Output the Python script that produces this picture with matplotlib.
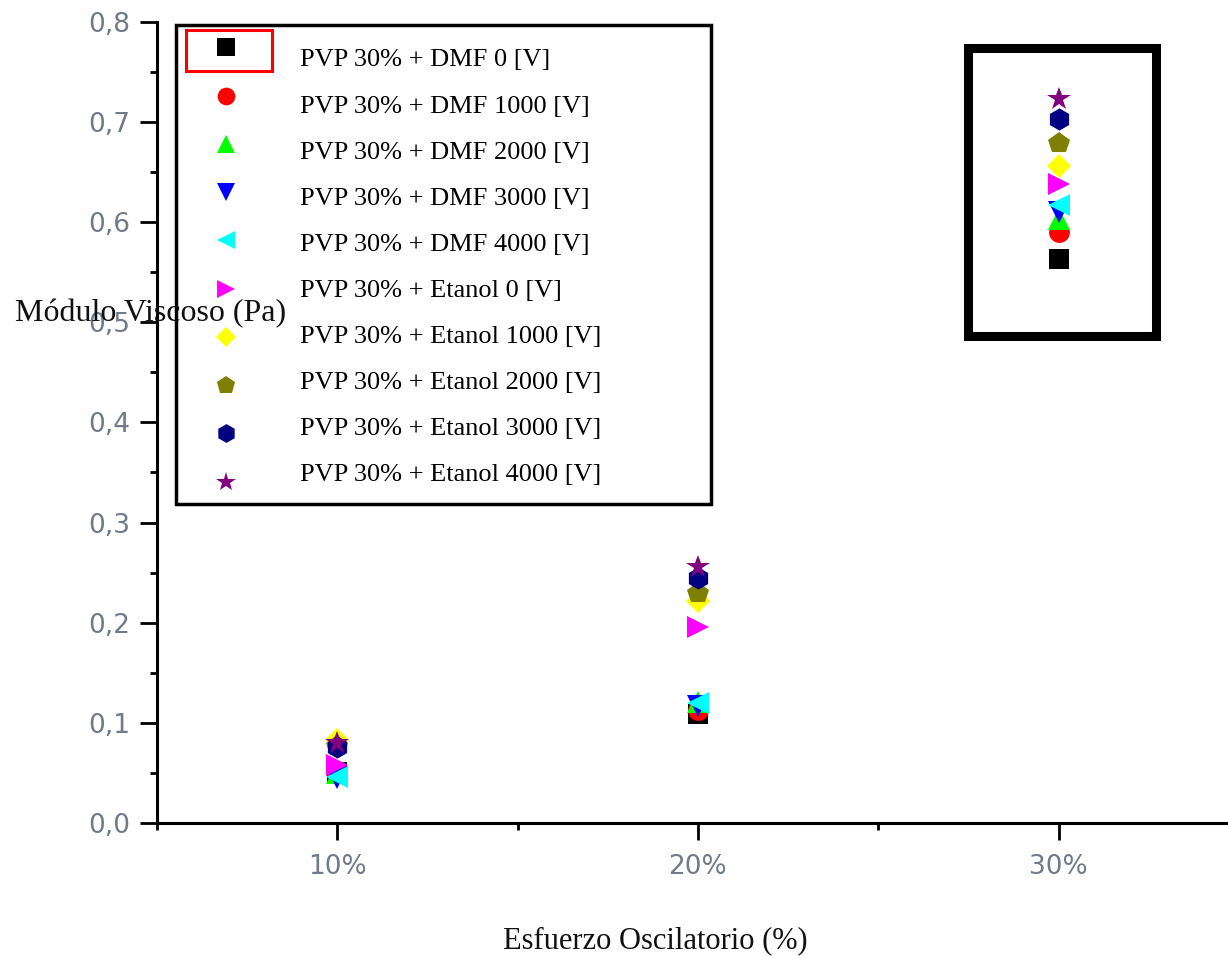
import matplotlib
matplotlib.use("Agg")
import matplotlib.pyplot as plt
from matplotlib.patches import Rectangle
from matplotlib.lines import Line2D
from matplotlib.ticker import MultipleLocator, FixedLocator, FuncFormatter

# ---- data ----
categories = ["10%", "20%", "30%"]
series_labels = [
    "PVP 30% + DMF 0 [V]",
    "PVP 30% + DMF 1000 [V]",
    "PVP 30% + DMF 2000 [V]",
    "PVP 30% + DMF 3000 [V]",
    "PVP 30% + DMF 4000 [V]",
    "PVP 30% + Etanol 0 [V]",
    "PVP 30% + Etanol 1000 [V]",
    "PVP 30% + Etanol 2000 [V]",
    "PVP 30% + Etanol 3000 [V]",
    "PVP 30% + Etanol 4000 [V]",
]
dmf_0 = [0.051, 0.109, 0.563]
dmf_1000 = [0.050, 0.113, 0.590]
dmf_2000 = [0.050, 0.121, 0.603]
dmf_3000 = [0.045, 0.117, 0.610]
dmf_4000 = [0.046, 0.120, 0.617]
etanol_0 = [0.058, 0.196, 0.638]
etanol_1000 = [0.083, 0.222, 0.656]
etanol_2000 = [0.077, 0.230, 0.679]
etanol_3000 = [0.076, 0.245, 0.703]
etanol_4000 = [0.080, 0.256, 0.723]
series_values = [dmf_0, dmf_1000, dmf_2000, dmf_3000, dmf_4000,
                 etanol_0, etanol_1000, etanol_2000, etanol_3000, etanol_4000]
y_ticks = [0.0, 0.1, 0.2, 0.3, 0.4, 0.5, 0.6, 0.7, 0.8]

# ---- styles ----
colors = ["#000000", "#ff0000", "#00ff00", "#0000ff", "#00ffff",
          "#ff00ff", "#ffff00", "#808000", "#000080", "#800080"]
markers = ["s", "o", "^", "v", "<", ">", "D", "p", "h", "*"]
msizes = [14.5, 15, 16, 16, 16, 16, 12.5, 16, 16, 17.5]

W, H = 1228, 956
fig = plt.figure(figsize=(W / 100, H / 100), dpi=100)
ax = fig.add_axes([157 / W, 1 - 823 / H, (W - 157) / W, (823 - 21.7) / H])

xpos = list(range(1, len(categories) + 1))
handles = []
for vals, lab, c, m, ms in zip(series_values, series_labels, colors, markers, msizes):
    h, = ax.plot(xpos, vals, linestyle="none", marker=m, color=c,
                 markersize=ms, markeredgewidth=0, label=lab, clip_on=False)
    handles.append(h)

ax.set_xlim(0.5, 3.47)
ax.set_ylim(0, 0.8)
for s in ["top", "right"]:
    ax.spines[s].set_visible(False)
for s in ["left", "bottom"]:
    ax.spines[s].set_linewidth(2.2)

ax.set_yticks(y_ticks)
ax.yaxis.set_minor_locator(MultipleLocator(0.05))
ax.yaxis.set_major_formatter(FuncFormatter(lambda v, p: f"{v:.1f}".replace(".", ",")))
ax.set_xticks(xpos)
ax.set_xticklabels(categories)
ax.xaxis.set_minor_locator(FixedLocator([0.5, 1.5, 2.5, 3.5]))

tick_color = "#707a88"
ax.tick_params(axis="both", which="major", direction="out", length=12, width=2,
               labelsize=19, labelcolor=tick_color)
ax.tick_params(axis="both", which="minor", direction="out", length=5, width=2)
ax.tick_params(axis="y", which="major", pad=7)
ax.tick_params(axis="x", which="major", pad=10)

serif = "Liberation Serif"
fig.text(15 / W, 1 - 321 / H, "Módulo Viscoso (Pa)", family=serif, fontsize=23,
         ha="left", va="baseline", color="#111111")
fig.text(655 / W, 1 - 948 / H, "Esfuerzo Oscilatorio (%)", family=serif, fontsize=22,
         ha="center", va="baseline", color="#111111")

# legend markers (own row pitch)
leg_markers = ax.legend(handles=handles, labels=[""] * len(handles), loc="upper left",
                        bbox_to_anchor=(199.6 / W, 1 - 38 / H),
                        bbox_transform=fig.transFigure,
                        frameon=False, prop={"family": serif, "size": 19},
                        handlelength=2.0, handletextpad=0.0,
                        borderpad=0, borderaxespad=0,
                        labelspacing=0.94, markerscale=0.85, numpoints=1)
ax.add_artist(leg_markers)

# legend texts
blank = [Line2D([], [], linestyle="none", marker="") for _ in series_labels]
leg_text = ax.legend(handles=blank, labels=series_labels, loc="upper left",
                     bbox_to_anchor=(300 / W, 1 - 48 / H),
                     bbox_transform=fig.transFigure,
                     frameon=False, prop={"family": serif, "size": 19},
                     handlelength=0.0, handletextpad=0.0,
                     borderpad=0, borderaxespad=0,
                     labelspacing=0.857)

def px_rect(x0, y0, x1, y1, color, lw):
    r = Rectangle((x0 / W, 1 - y1 / H), (x1 - x0) / W, (y1 - y0) / H,
                  transform=fig.transFigure, fill=False, edgecolor=color,
                  linewidth=lw, joinstyle="miter")
    fig.add_artist(r)

px_rect(175.5, 25, 710.5, 504, "black", 2.5)
px_rect(185.5, 29.5, 272, 70.5, "#ff0000", 2.2)
px_rect(967.5, 48, 1156, 335.5, "black", 6.5)

fig.savefig("out.png", dpi=100)
